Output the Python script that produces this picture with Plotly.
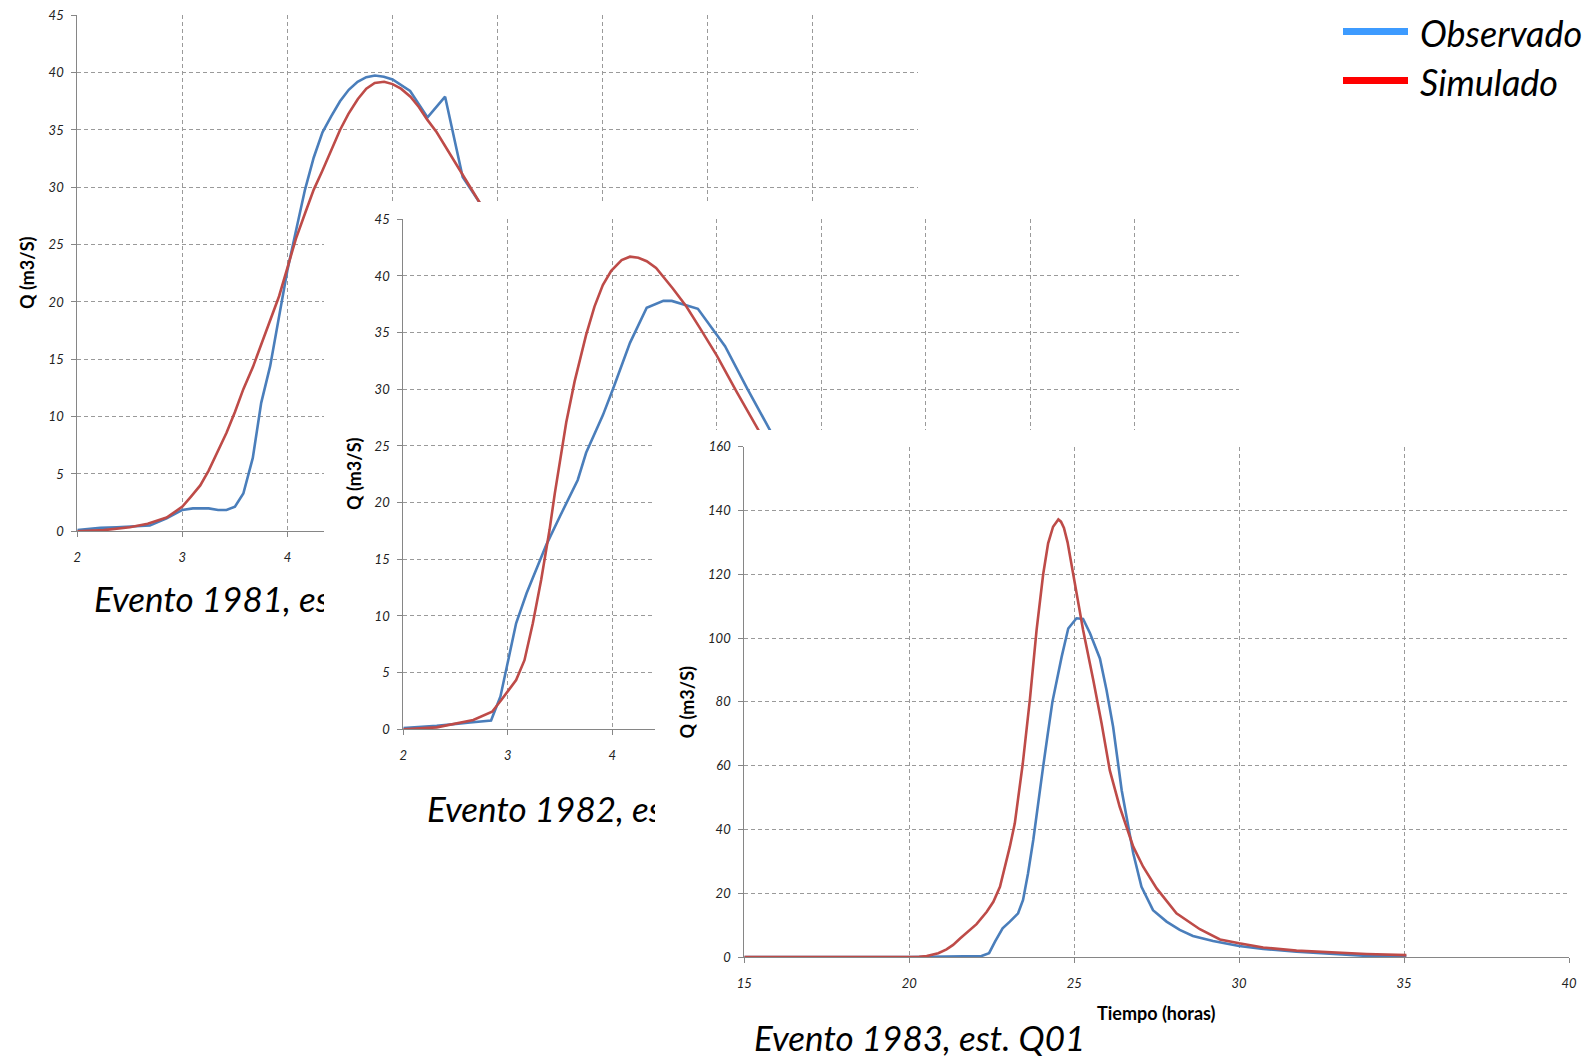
import plotly.graph_objects as go

# Page sheet is 1590 x 1058; the plotting area sits 8 px inside it on every side.
W, H = 1590, 1058
INSET = 8
PW, PH = W - 2 * INSET, H - 2 * INSET

# ---------------- data: discharge hydrographs (hours, m3/s) ----------------
# Evento 1981
t_1981_obs = [2.0, 2.22, 2.375, 2.53, 2.69, 2.85, 3.0, 3.1, 3.25, 3.34, 3.42, 3.5, 3.58, 3.67,
              3.75, 3.835, 3.91, 4.0, 4.083, 4.167, 4.25, 4.333, 4.417, 4.5, 4.583, 4.667,
              4.75, 4.833, 4.917, 5.0, 5.167, 5.333, 5.5, 5.667, 5.833, 6.0]
q_1981_obs = [0.1, 0.3, 0.35, 0.4, 0.5, 1.13, 1.86, 2.0, 2.0, 1.86, 1.86, 2.15, 3.3, 6.4,
              11.2, 14.4, 18.1, 22.8, 26.3, 29.8, 32.6, 34.8, 36.2, 37.5, 38.5, 39.2,
              39.6, 39.75, 39.65, 39.4, 38.4, 36.1, 37.9, 30.9, 28.6, 26.0]
t_1981_sim = [2.0, 2.25, 2.5, 2.67, 2.85, 3.0, 3.08, 3.17, 3.25, 3.33, 3.42, 3.5, 3.58, 3.67,
              3.75, 3.83, 3.92, 4.0, 4.08, 4.17, 4.25, 4.33, 4.42, 4.5, 4.58, 4.67, 4.75,
              4.83, 4.92, 5.0, 5.08, 5.17, 5.25, 5.33, 5.42, 5.5, 5.58, 5.67, 5.75, 5.83,
              5.92, 6.0]
q_1981_sim = [0.0, 0.1, 0.35, 0.65, 1.2, 2.15, 3.0, 4.0, 5.3, 6.9, 8.6, 10.4, 12.4, 14.3,
              16.3, 18.3, 20.5, 23.0, 25.5, 27.8, 29.8, 31.4, 33.3, 35.0, 36.4, 37.7, 38.6,
              39.1, 39.2, 39.0, 38.6, 37.9, 37.0, 35.9, 34.8, 33.6, 32.4, 31.1, 29.9, 28.6,
              27.3, 26.0]

# Evento 1982
t_1982_obs = [2.0, 2.32, 2.64, 2.84, 2.93, 3.08, 3.18, 3.37, 3.5, 3.6, 3.67, 3.75, 3.91,
              4.01, 4.17, 4.33, 4.49, 4.57, 4.68, 4.82, 5.08, 5.29, 5.51, 5.7]
q_1982_obs = [0.1, 0.3, 0.6, 0.77, 2.9, 9.35, 12.0, 16.3, 18.8, 20.7, 22.0, 24.4, 27.7,
              30.1, 34.1, 37.2, 37.8, 37.8, 37.5, 37.1, 33.8, 30.1, 26.4, 23.0]
t_1982_sim = [2.0, 2.32, 2.67, 2.85, 2.94, 3.08, 3.16, 3.24, 3.32, 3.40, 3.45, 3.56, 3.64,
              3.75, 3.83, 3.91, 3.99, 4.09, 4.17, 4.25, 4.33, 4.42, 4.58, 4.71, 4.84, 5.0,
              5.19, 5.40, 5.6]
q_1982_sim = [0.0, 0.17, 0.82, 1.55, 2.6, 4.35, 6.1, 9.35, 13.2, 17.6, 20.8, 27.1, 30.7,
              34.8, 37.3, 39.2, 40.45, 41.4, 41.7, 41.6, 41.3, 40.7, 38.9, 37.3, 35.4, 33.0,
              29.8, 26.4, 23.0]

# Evento 1983
t_1983_obs = [15, 20, 22.19, 22.42, 22.6, 22.83, 23.05, 23.3, 23.45, 23.6, 23.76, 23.91,
              24.05, 24.2, 24.34, 24.62, 24.82, 25.07, 25.27, 25.48, 25.78, 25.98, 26.18,
              26.44, 26.64, 26.79, 27.04, 27.39, 27.8, 28.2, 28.6, 29.21, 30.0, 30.73,
              31.74, 32.75, 33.76, 35.07]
q_1983_obs = [0, 0, 0.3, 1.2, 4.8, 9.0, 11.1, 13.7, 17.9, 26.2, 36.7, 49.2,
              59.0, 70.0, 80.0, 94.1, 103.0, 106.2, 106.0, 101.5, 93.6, 83.7, 72.2,
              52.3, 40.8, 32.5, 22.0, 14.7, 11.1, 8.5, 6.6, 5.0, 3.45, 2.5,
              1.7, 0.95, 0.4, 0.3]
t_1983_sim = [15, 20, 20.3, 20.53, 20.88, 21.13, 21.33, 21.54, 21.74, 22.04, 22.35, 22.55,
              22.75, 22.9, 23.05, 23.2, 23.33, 23.44, 23.66, 23.86, 24.06, 24.21, 24.36,
              24.52, 24.6, 24.69, 24.8, 24.92, 25.05, 25.27, 25.58, 25.83, 26.08, 26.38,
              26.79, 27.09, 27.5, 28.1, 28.81, 29.42, 30.0, 30.73, 31.74, 32.75, 33.86, 35.07]
q_1983_sim = [0, 0, 0.1, 0.3, 1.2, 2.4, 3.8, 5.8, 7.6, 10.3, 14.2, 17.3,
              22.0, 28.3, 34.6, 41.9, 51.3, 60.5, 81.0, 102.5, 120.0, 129.7, 134.9,
              137.2, 136.5, 134.5, 130.0, 123.0, 115.0, 102.5, 86.8, 73.3, 58.5, 47.1,
              34.6, 28.3, 21.5, 13.7, 8.7, 5.5, 4.3, 3.0, 2.0, 1.5, 0.95, 0.6]

# captions (the 1981/1982 panels are partly hidden behind the next panel)
captions = ["Evento 1981, es", "Evento 1982, es", "Evento 1983, est. Q01"]
legend_names = ["Observado", "Simulado"]

# hour ticks of the two short events; only the first three stay uncovered
hour_ticks = [2, 3, 4, 5, 6, 7, 8, 9, 10]
hour_labels = ["2", "3", "4", "", "", "", "", "", ""]

# ---------------- styling ----------------
BLUE = "#4a7ebb"
RED = "#be4b48"
LEG_BLUE = "#3d9bff"
LEG_RED = "#ff0000"
GRID = "#9a9a9a"
AXIS = "#868686"
FONT = "Lato"


def fx(p):
    return (p - INSET) / PW


def fy(p):
    return 1 - (p - INSET) / PH


fig = go.Figure()

# Subplot stacking follows axis numbering:
# 1 = chart 1981, 2 = caption 1981, 3 = panel cover + caption 1982,
# 4 = chart 1982, 5 = panel cover + caption 1983, 6 = chart 1983
CANVAS = dict(domain=[0, 1], visible=False, fixedrange=True)


def chart_axes(n, left, right, top, bottom, xr, xd, yr, yd, xvals=None, xtext=None):
    tick = dict(family=FONT, size=13, color="#222222", style="italic")
    common = dict(showgrid=True, gridcolor=GRID, gridwidth=1, griddash="4px,3px",
                  showline=True, linecolor=AXIS, linewidth=1, ticks="outside",
                  ticklen=5, tickcolor=AXIS, tickwidth=1, zeroline=False,
                  fixedrange=True, tickfont=tick)
    sfx = "" if n == 1 else str(n)
    xa = dict(common, domain=[fx(left), fx(right)], range=xr, anchor="y" + sfx,
              ticklabelstandoff=9)
    if xvals is not None:
        xa.update(tickmode="array", tickvals=xvals, ticktext=xtext)
    else:
        xa.update(dtick=xd, tick0=xr[0])
    fig.layout["xaxis" + sfx] = xa
    fig.layout["yaxis" + sfx] = dict(common, domain=[fy(bottom), fy(top)], range=yr,
                                     dtick=yd, tick0=0, anchor="x" + sfx,
                                     ticklabelstandoff=5)


def canvas_axes(n):
    sfx = str(n)
    fig.layout["xaxis" + sfx] = dict(CANVAS, range=[INSET, W - INSET], anchor="y" + sfx)
    fig.layout["yaxis" + sfx] = dict(CANVAS, range=[H - INSET, INSET], anchor="x" + sfx)


def add_series(t_obs, q_obs, t_sim, q_sim, n):
    sfx = "" if n == 1 else str(n)
    fig.add_trace(go.Scatter(x=t_obs, y=q_obs, mode="lines", name=legend_names[0],
                             line=dict(color=BLUE, width=2.6), showlegend=False,
                             xaxis="x" + sfx, yaxis="y" + sfx, hoverinfo="skip"))
    fig.add_trace(go.Scatter(x=t_sim, y=q_sim, mode="lines", name=legend_names[1],
                             line=dict(color=RED, width=2.6), showlegend=False,
                             xaxis="x" + sfx, yaxis="y" + sfx, hoverinfo="skip"))


def add_cover(n, x0, x1, y0, y1):
    fig.add_trace(go.Scatter(x=[x0, x1, x1, x0, x0], y=[y0, y0, y1, y1, y0],
                             mode="lines", fill="toself", fillcolor="white",
                             line=dict(width=0, color="white"), showlegend=False,
                             xaxis="x" + str(n), yaxis="y" + str(n), hoverinfo="skip"))


def add_caption(n, text, x, y, clip=True):
    fig.add_trace(go.Scatter(x=[x], y=[y], mode="text", text=[text],
                             textposition="middle right", showlegend=False,
                             cliponaxis=clip,
                             textfont=dict(family=FONT, size=35, color="black",
                                           style="italic"),
                             xaxis="x" + str(n), yaxis="y" + str(n), hoverinfo="skip"))


# chart 1981
chart_axes(1, 77.3, 918, 15.3, 531.3, [2, 10], 1, [0, 45], 5, hour_ticks, hour_labels)
add_series(t_1981_obs, q_1981_obs, t_1981_sim, q_1981_sim, 1)

# caption 1981
canvas_axes(2)
add_caption(2, captions[0], 94, 603)

# cover for chart 1982 panel + caption 1982
canvas_axes(3)
add_cover(3, 324, 1250, 202, 880)
add_caption(3, captions[1], 427, 813)

# chart 1982
chart_axes(4, 403.3, 1239, 219.3, 729.3, [2, 10], 1, [0, 45], 5, hour_ticks, hour_labels)
add_series(t_1982_obs, q_1982_obs, t_1982_sim, q_1982_sim, 4)

# cover for chart 1983 panel + caption 1983 (caption reaches below the inset edge)
canvas_axes(5)
add_cover(5, 655, W, 430, H)
add_caption(5, captions[2], 754, 1042, clip=False)

# chart 1983
chart_axes(6, 744.3, 1569, 446.7, 957, [15, 40], 5, [0, 160], 20)
add_series(t_1983_obs, q_1983_obs, t_1983_sim, q_1983_sim, 6)

# axis titles
ann = []
for (xp, yp) in [(27, 273), (354, 474), (686.5, 702)]:
    ann.append(dict(x=fx(xp), y=fy(yp), xref="paper", yref="paper", text="Q (m3/S)",
                    textangle=-90, showarrow=False, xanchor="center", yanchor="middle",
                    font=dict(family=FONT, size=18, color="black", weight="bold")))
ann.append(dict(x=fx(1156.7), y=fy(1012.7), xref="paper", yref="paper",
                text="Tiempo (horas)", showarrow=False, xanchor="center", yanchor="middle",
                font=dict(family=FONT, size=18, color="black", weight="bold")))

# legend
shapes = []
for name, col, yp in [(legend_names[0], LEG_BLUE, 31.5), (legend_names[1], LEG_RED, 80.5)]:
    shapes.append(dict(type="line", xref="paper", yref="paper", x0=fx(1343), x1=fx(1408),
                       y0=fy(yp), y1=fy(yp), line=dict(color=col, width=7)))
    ann.append(dict(x=fx(1418), y=fy(yp + 1), xref="paper", yref="paper", text=name,
                    showarrow=False, xanchor="left", yanchor="middle",
                    font=dict(family=FONT, size=36, color="black", style="italic")))

fig.update_layout(width=W, height=H, margin=dict(l=0, r=0, t=0, b=0),
                  paper_bgcolor="white", plot_bgcolor="rgba(0,0,0,0)",
                  showlegend=False, annotations=ann, shapes=shapes)

fig.write_html("out.html")
